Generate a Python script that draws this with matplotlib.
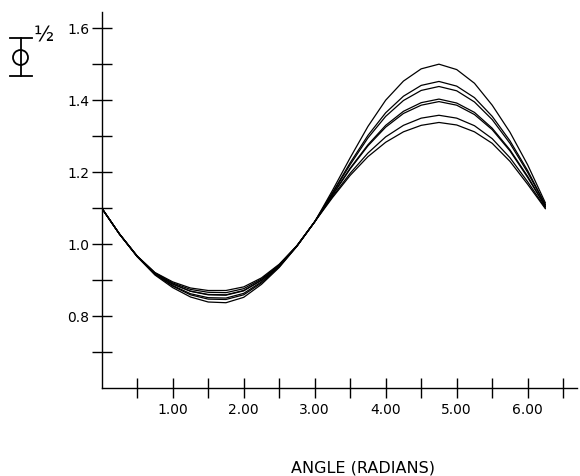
import matplotlib
matplotlib.use("Agg")
import matplotlib.pyplot as plt
from matplotlib.lines import Line2D
from matplotlib.patches import Ellipse

# angle grid (radians) and the seven curves
angle = [0.00, 0.25, 0.50, 0.75, 1.00, 1.25, 1.50, 1.75, 2.00, 2.25, 2.50, 2.75, 3.00,
         3.25, 3.50, 3.75, 4.00, 4.25, 4.50, 4.75, 5.00, 5.25, 5.50, 5.75, 6.00, 6.25]

curve1 = [1.100, 1.028, 0.965, 0.914, 0.879, 0.853, 0.839, 0.837, 0.852, 0.888, 0.935, 0.994, 1.062,
          1.149, 1.240, 1.327, 1.400, 1.453, 1.487, 1.500, 1.485, 1.447, 1.386, 1.311, 1.220, 1.114]
curve2 = [1.100, 1.028, 0.965, 0.916, 0.883, 0.859, 0.847, 0.846, 0.859, 0.892, 0.937, 0.994, 1.062,
          1.143, 1.226, 1.302, 1.365, 1.411, 1.441, 1.452, 1.439, 1.407, 1.355, 1.287, 1.204, 1.109]
curve3 = [1.100, 1.028, 0.966, 0.917, 0.885, 0.862, 0.851, 0.850, 0.863, 0.895, 0.938, 0.995, 1.062,
          1.141, 1.221, 1.295, 1.355, 1.399, 1.427, 1.438, 1.426, 1.395, 1.346, 1.280, 1.199, 1.108]
curve4 = [1.100, 1.028, 0.966, 0.918, 0.889, 0.869, 0.859, 0.858, 0.870, 0.899, 0.940, 0.995, 1.062,
          1.137, 1.211, 1.276, 1.330, 1.369, 1.393, 1.403, 1.392, 1.366, 1.322, 1.262, 1.188, 1.104]
curve5 = [1.100, 1.028, 0.966, 0.919, 0.889, 0.869, 0.860, 0.859, 0.871, 0.900, 0.941, 0.995, 1.062,
          1.136, 1.209, 1.273, 1.325, 1.363, 1.386, 1.396, 1.386, 1.360, 1.318, 1.259, 1.185, 1.104]
curve6 = [1.100, 1.028, 0.966, 0.920, 0.892, 0.874, 0.866, 0.865, 0.876, 0.903, 0.942, 0.995, 1.062,
          1.132, 1.197, 1.253, 1.298, 1.330, 1.350, 1.358, 1.350, 1.329, 1.293, 1.240, 1.173, 1.100]
curve7 = [1.100, 1.028, 0.967, 0.921, 0.895, 0.878, 0.871, 0.871, 0.881, 0.906, 0.944, 0.996, 1.062,
          1.129, 1.191, 1.243, 1.283, 1.312, 1.330, 1.338, 1.331, 1.312, 1.280, 1.230, 1.166, 1.098]

x_ticks = [0.5, 1.0, 1.5, 2.0, 2.5, 3.0, 3.5, 4.0, 4.5, 5.0, 5.5, 6.0, 6.5]
x_labels = ['', '1.00', '', '2.00', '', '3.00', '', '4.00', '', '5.00', '', '6.00', '']
y_ticks = [0.7, 0.8, 0.9, 1.0, 1.1, 1.2, 1.3, 1.4, 1.5, 1.6]
y_labels = ['', '0.8', '', '1.0', '', '1.2', '', '1.4', '', '1.6']

W, H = 580, 476
fig = plt.figure(figsize=(W / 100, H / 100), dpi=100)
ax = fig.add_axes([101.7 / W, 1 - 388 / H, 475.7 / W, 376 / H])

for c in [curve1, curve2, curve3, curve4, curve5, curve6, curve7]:
    ax.plot(angle, c, color='black', lw=0.9, solid_capstyle='round')

ax.set_xlim(0, 6.7)
ax.set_ylim(0.6, 1.645)
for s in ['top', 'right']:
    ax.spines[s].set_visible(False)
for s in ['left', 'bottom']:
    ax.spines[s].set_linewidth(1.0)

ax.set_xticks(x_ticks)
ax.set_xticklabels(x_labels)
ax.set_yticks(y_ticks)
ax.set_yticklabels(y_labels)
ax.tick_params(axis='both', direction='inout', length=14, width=1.0, labelsize=10)
ax.tick_params(axis='x', pad=4)
ax.tick_params(axis='y', pad=2)

fig.text(363 / W, 1 - 468 / H, 'ANGLE (RADIANS)', ha='center', va='center', fontsize=11.5)

# y-axis symbol: barred Phi with exponent 1/2
def fx(px):
    return px / W

def fy(py):
    return 1 - py / H

for y in [38, 76]:
    fig.add_artist(Line2D([fx(10), fx(32)], [fy(y), fy(y)], color='black', lw=1.3))
fig.add_artist(Line2D([fx(20.5), fx(20.5)], [fy(38), fy(76)], color='black', lw=1.3))
fig.add_artist(Ellipse((fx(20.5), fy(57.5)), 15 / W, 15 / H, fill=False, ec='black', lw=1.3))
fig.text(fx(44), fy(35), '\u00bd', ha='center', va='center', fontsize=15)

fig.savefig('out.png', dpi=100)
